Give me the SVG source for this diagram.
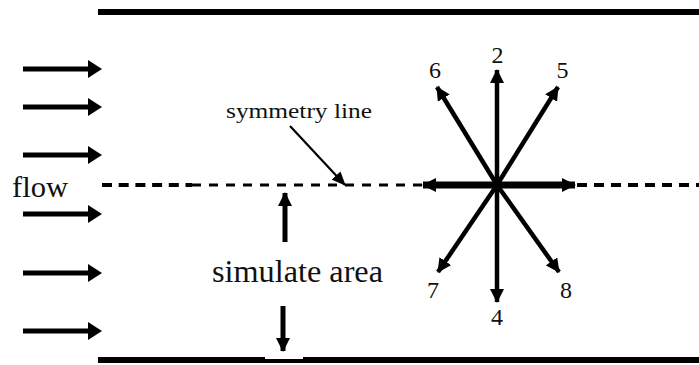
<svg xmlns="http://www.w3.org/2000/svg" width="699" height="365" viewBox="0 0 699 365">
<style>
.txt{font-family:"Liberation Serif","Times New Roman",serif;fill:#111}
.wall{stroke:#000;stroke-width:6}
.flow{stroke:#000;stroke-width:5}
.vec{stroke:#000;stroke-width:4.5}
</style>
<defs>
<marker id="ah" viewBox="0 0 14 14" refX="13" refY="7" markerWidth="14" markerHeight="14" markerUnits="userSpaceOnUse" orient="auto">
<path d="M0,0 L14,7 L0,14 Z" fill="#000"/>
</marker>
<marker id="ahs" viewBox="0 0 14 12" refX="13" refY="6" markerWidth="14" markerHeight="12" markerUnits="userSpaceOnUse" orient="auto">
<path d="M0,0 L14,6 L0,12 Z" fill="#000"/>
</marker>
</defs>
<rect width="699" height="365" fill="#fff"/>
<g id="walls">
<line class="wall" x1="98" y1="12" x2="699" y2="12"/>
<line class="wall" x1="98" y1="360" x2="699" y2="360"/>
<rect x="265" y="357" width="38" height="2" fill="#fff"/>
</g>
<g id="symmetry-dash">
<line x1="102" y1="185" x2="192" y2="185" stroke="#000" stroke-width="4" stroke-dasharray="10 6.7"/>
<line x1="192" y1="185" x2="422" y2="185" stroke="#000" stroke-width="3" stroke-dasharray="9 8"/>
<line x1="577" y1="185" x2="699" y2="185" stroke="#000" stroke-width="4" stroke-dasharray="10 7"/>
</g>
<g id="connectors">
<g id="flow-arrows">
<line class="flow" x1="23" y1="69" x2="90" y2="69"/><path d="M88,60 L102,69 L88,78 Z"/>
<line class="flow" x1="23" y1="107" x2="90" y2="107"/><path d="M88,98 L102,107 L88,116 Z"/>
<line class="flow" x1="23" y1="155" x2="90" y2="155"/><path d="M88,146 L102,155 L88,164 Z"/>
<line class="flow" x1="23" y1="214" x2="90" y2="214"/><path d="M88,205 L102,214 L88,223 Z"/>
<line class="flow" x1="23" y1="273" x2="90" y2="273"/><path d="M88,264 L102,273 L88,282 Z"/>
<line class="flow" x1="23" y1="331" x2="90" y2="331"/><path d="M88,322 L102,331 L88,340 Z"/>
</g>
<g id="pointer">
<line x1="290" y1="126" x2="345" y2="185" stroke="#000" stroke-width="2.2" marker-end="url(#ahs)"/>
</g>
<g id="area-arrows">
<line class="flow" x1="285" y1="242" x2="285" y2="193" marker-end="url(#ah)"/>
<line class="flow" x1="283" y1="306" x2="283" y2="351" marker-end="url(#ah)"/>
</g>
<g id="lattice">
<line class="vec" x1="497" y1="185" x2="497" y2="70" marker-end="url(#ah)"/>
<line class="vec" x1="497" y1="185" x2="497" y2="302" marker-end="url(#ah)"/>
<line x1="497" y1="185" x2="423" y2="185" stroke="#000" stroke-width="7" marker-end="url(#ah)"/>
<line x1="497" y1="185" x2="575" y2="185" stroke="#000" stroke-width="7" marker-end="url(#ah)"/>
<line class="vec" x1="497" y1="185" x2="558" y2="87" marker-end="url(#ah)"/>
<line class="vec" x1="497" y1="185" x2="437" y2="87" marker-end="url(#ah)"/>
<line class="vec" x1="497" y1="185" x2="438" y2="272" marker-end="url(#ah)"/>
<line class="vec" x1="497" y1="185" x2="559" y2="272" marker-end="url(#ah)"/>
</g>
</g>
<g id="labels">
<text class="txt" x="12" y="197" font-size="30" textLength="56" lengthAdjust="spacingAndGlyphs">flow</text>
<text class="txt" x="226" y="118" font-size="22" textLength="146" lengthAdjust="spacingAndGlyphs">symmetry line</text>
<text class="txt" x="212" y="282" font-size="32" textLength="171" lengthAdjust="spacingAndGlyphs">simulate area</text>
<text class="txt" x="497.5" y="63" font-size="24" text-anchor="middle">2</text>
<text class="txt" x="435" y="78" font-size="24" text-anchor="middle">6</text>
<text class="txt" x="562.5" y="78" font-size="24" text-anchor="middle">5</text>
<text class="txt" x="433" y="298" font-size="24" text-anchor="middle">7</text>
<text class="txt" x="566" y="298" font-size="24" text-anchor="middle">8</text>
<text class="txt" x="497" y="325" font-size="24" text-anchor="middle">4</text>
</g>
</svg>
